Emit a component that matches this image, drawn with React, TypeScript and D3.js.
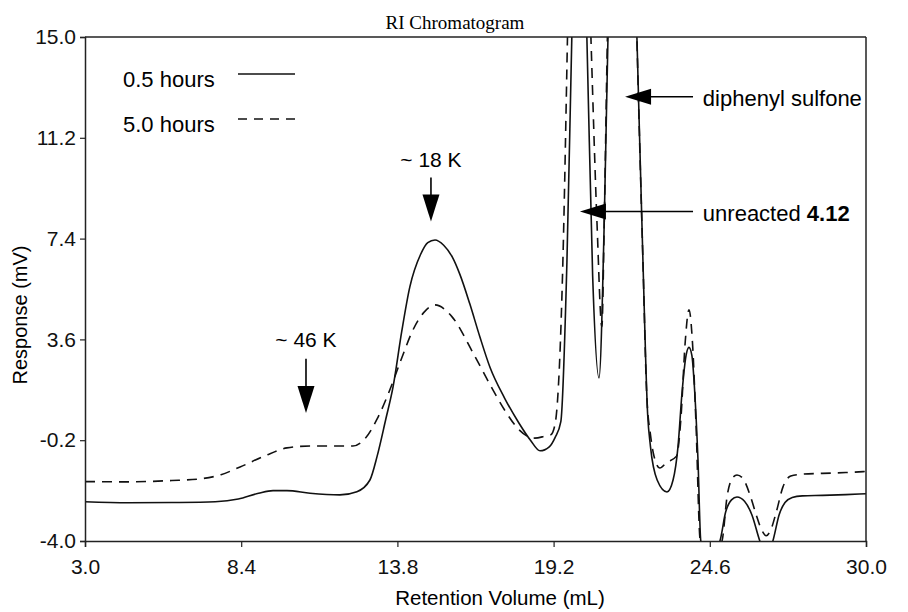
import React, { useRef, useEffect } from 'react';
import * as d3 from 'd3';

// retention volume (mL) / response (mV)
const solidVol = [3.0, 4.5, 6.0, 7.5, 8.3, 9.0, 9.5, 9.98, 10.78, 11.81, 12.4, 12.85, 13.1, 13.4, 13.65, 13.95, 14.23, 14.6, 14.85, 15.1, 15.4, 15.7, 15.96, 16.3, 16.65, 17.0, 17.5, 18.0, 18.4, 18.73, 19.05, 19.25, 19.45, 19.66, 19.83, 20.0, 20.15, 20.35, 20.55, 20.77, 20.95, 21.08, 21.3, 21.6, 21.9, 22.08, 22.29, 22.45, 22.55, 22.78, 23.12, 23.33, 23.5, 23.64, 23.78, 23.88, 23.98, 24.08, 24.19, 24.29, 24.6, 24.95, 25.15, 25.35, 25.54, 25.8, 26.05, 26.33, 26.55, 26.78, 27.0, 27.2, 27.45, 27.8, 28.5, 29.3, 30.0];
const solidResp = [-2.52, -2.56, -2.55, -2.52, -2.42, -2.2, -2.1, -2.1, -2.2, -2.26, -2.14, -1.7, -0.8, 0.6, 1.81, 3.9, 5.58, 6.8, 7.25, 7.35, 7.15, 6.7, 6.05, 4.95, 3.7, 2.55, 1.4, 0.45, -0.2, -0.6, -0.45, -0.1, 0.5, 6.5, 15, 22, 22, 15, 6, 2.15, 8, 15, 22, 24, 22, 15, 6.5, 0.8, -0.45, -1.7, -2.15, -1.7, -0.45, 1.6, 3.0, 3.3, 3.0, 1.6, -0.9, -4.0, -4.6, -4.0, -2.9, -2.45, -2.34, -2.5, -3.0, -4.0, -4.6, -4.0, -3.0, -2.55, -2.36, -2.3, -2.28, -2.25, -2.22];

const dashVol = [3.0, 4.5, 6.0, 6.97, 7.7, 8.36, 9.2, 9.98, 10.78, 11.5, 12.26, 12.64, 13.1, 13.54, 13.95, 14.34, 14.7, 15.1, 15.69, 16.41, 17.0, 17.5, 18.0, 18.3, 18.55, 18.9, 19.1, 19.25, 19.52, 19.68, 19.85, 20.1, 20.3, 20.49, 20.7, 20.87, 20.95, 21.06, 21.3, 21.6, 21.9, 22.08, 22.29, 22.42, 22.55, 22.65, 22.87, 23.1, 23.45, 23.6, 23.75, 23.88, 24.0, 24.12, 24.27, 24.6, 25.02, 25.2, 25.4, 25.54, 25.75, 26.0, 26.2, 26.4, 26.55, 26.7, 26.9, 27.13, 27.4, 27.8, 28.5, 29.3, 30.0];
const dashResp = [-1.76, -1.77, -1.72, -1.66, -1.5, -1.21, -0.8, -0.49, -0.42, -0.42, -0.42, -0.19, 0.6, 1.7, 2.9, 3.96, 4.6, 4.9, 4.45, 3.1, 1.9, 0.95, 0.2, -0.05, -0.12, -0.05, 0.0, 0.4, 6.5, 15, 25, 25, 22, 15, 8, 4.08, 8, 15, 24, 26, 24, 15, 6.5, 1.5, 0.0, -0.7, -1.25, -1.05, -0.8, 0.6, 3.5, 4.72, 3.5, 0.5, -4.0, -4.6, -4.0, -2.3, -1.6, -1.51, -1.65, -2.3, -3.0, -3.6, -3.8, -3.6, -2.9, -1.96, -1.55, -1.48, -1.45, -1.42, -1.38];

const xTicks = [3.0, 8.4, 13.8, 19.2, 24.6, 30.0];
const yTicks = [-4.0, -0.2, 3.6, 7.4, 11.2, 15.0];

const seriesNames = ['0.5 hours', '5.0 hours'];

// annotations: [label, x, textY, arrowFromY, arrowToY]
const vertNotes: [string, number, number, number, number][] = [
  ['~ 46 K', 10.64, 3.58, 2.87, 0.83],
  ['~ 18 K', 14.96, 10.38, 9.7, 8.04],
];
// [label, bold part, y, tipX, tailX, textX]
const horizNotes: [string, string, number, number, number, number][] = [
  ['diphenyl sulfone', '', 12.75, 21.67, 24.02, 24.36],
  ['unreacted ', '4.12', 8.42, 20.11, 24.02, 24.36],
];

const W = 908, H = 612;
const margin = { top: 37, right: 42, bottom: 71, left: 85 };
const SANS = '"Liberation Sans", Arial, sans-serif';
const fmt = (d: number) => d.toFixed(1);

const Chart: React.FC = () => {
  const svgRef = useRef<SVGSVGElement>(null);

  useEffect(() => {
    if (!svgRef.current) return;
    const svg = d3.select(svgRef.current);
    svg.selectAll('*').remove();

    const iw = W - margin.left - margin.right;
    const ih = H - margin.top - margin.bottom;

    const x = d3.scaleLinear().domain([3, 30]).range([0, iw]);
    const y = d3.scaleLinear().domain([-4, 15]).range([ih, 0]);

    svg.append('rect').attr('width', W).attr('height', H).attr('fill', '#fff');

    svg.append('defs').append('clipPath').attr('id', 'plot-clip')
      .append('rect').attr('width', iw).attr('height', ih);

    const g = svg.append('g').attr('transform', `translate(${margin.left},${margin.top})`);

    // title
    svg.append('text')
      .attr('x', 455).attr('y', 29)
      .attr('text-anchor', 'middle')
      .attr('font-family', '"Liberation Serif", "Times New Roman", serif')
      .attr('font-size', 19)
      .text('RI Chromatogram');

    // curves
    const line = d3.line<[number, number]>()
      .x(d => x(d[0]))
      .y(d => y(d[1]))
      .curve(d3.curveMonotoneX);

    const solidPts = solidVol.map((v, i) => [v, solidResp[i]] as [number, number]);
    const dashPts = dashVol.map((v, i) => [v, dashResp[i]] as [number, number]);

    const curves = g.append('g').attr('clip-path', 'url(#plot-clip)');
    curves.append('path').attr('d', line(dashPts))
      .attr('fill', 'none').attr('stroke', '#111').attr('stroke-width', 1.6)
      .attr('stroke-dasharray', '10,7');
    curves.append('path').attr('d', line(solidPts))
      .attr('fill', 'none').attr('stroke', '#111').attr('stroke-width', 1.6);

    // frame: top and right
    g.append('line').attr('x1', 0).attr('x2', iw).attr('y1', 0).attr('y2', 0)
      .attr('stroke', '#222').attr('stroke-width', 1.5);
    g.append('line').attr('x1', iw).attr('x2', iw).attr('y1', 0).attr('y2', ih)
      .attr('stroke', '#222').attr('stroke-width', 1.5);

    // axes
    const xAxis = g.append('g').attr('transform', `translate(0,${ih})`)
      .call(d3.axisBottom(x).tickValues(xTicks).tickFormat(fmt as any).tickSizeOuter(0).tickSize(6).tickPadding(12));
    const yAxis = g.append('g')
      .call(d3.axisLeft(y).tickValues(yTicks).tickFormat(fmt as any).tickSizeOuter(0).tickSize(5).tickPadding(4));

    [xAxis, yAxis].forEach(a => {
      a.select('.domain').attr('stroke', '#222').attr('stroke-width', 1.5);
      a.selectAll('.tick line').attr('stroke', '#222').attr('stroke-width', 1.2);
      a.selectAll('.tick text').attr('font-family', SANS).attr('font-size', 21).attr('fill', '#111');
    });

    // axis titles
    svg.append('text')
      .attr('x', 500).attr('y', 605)
      .attr('text-anchor', 'middle')
      .attr('font-family', SANS).attr('font-size', 20.5)
      .text('Retention Volume (mL)');
    svg.append('text')
      .attr('transform', 'translate(27,315) rotate(-90)')
      .attr('text-anchor', 'middle')
      .attr('font-family', SANS).attr('font-size', 20)
      .text('Response (mV)');

    // legend
    const legend = g.append('g');
    seriesNames.forEach((name, i) => {
      const ly = 37 + i * 45;
      legend.append('text')
        .attr('x', 38).attr('y', ly + 5).attr('dy', '0.35em')
        .attr('font-family', SANS).attr('font-size', 22)
        .text(name);
      legend.append('line')
        .attr('x1', 153).attr('x2', 210).attr('y1', ly).attr('y2', ly)
        .attr('stroke', '#111').attr('stroke-width', 1.6)
        .attr('stroke-dasharray', i === 0 ? null : '9,7');
    });

    // vertical arrows
    vertNotes.forEach(([label, vx, ty, y0, y1]) => {
      const px = x(vx);
      g.append('text')
        .attr('x', px).attr('y', y(ty)).attr('dy', '0.35em')
        .attr('text-anchor', 'middle')
        .attr('font-family', SANS).attr('font-size', 21)
        .text(label);
      const tip = y(y1);
      g.append('line')
        .attr('x1', px).attr('x2', px).attr('y1', y(y0)).attr('y2', tip - 20)
        .attr('stroke', '#000').attr('stroke-width', 1.6);
      g.append('path')
        .attr('d', `M${px - 8.5},${tip - 27}L${px + 8.5},${tip - 27}L${px},${tip}Z`)
        .attr('fill', '#000');
    });

    // horizontal arrows
    horizNotes.forEach(([label, bold, hy, tipX, tailX, textX]) => {
      const py = y(hy);
      const tip = x(tipX);
      g.append('line')
        .attr('x1', x(tailX)).attr('x2', tip + 20).attr('y1', py).attr('y2', py)
        .attr('stroke', '#000').attr('stroke-width', 1.6);
      g.append('path')
        .attr('d', `M${tip + 26},${py - 8}L${tip + 26},${py + 8}L${tip},${py}Z`)
        .attr('fill', '#000');
      const t = g.append('text')
        .attr('x', x(textX)).attr('y', py + 2).attr('dy', '0.35em')
        .attr('font-family', SANS).attr('font-size', 22);
      t.append('tspan').text(label);
      if (bold) t.append('tspan').attr('font-weight', 'bold').text(bold);
    });
  }, []);

  return <svg ref={svgRef} width={W} height={H} style={{ position: 'absolute', left: 0, top: 0 }} />;
};

export default function App() {
  return <Chart />;
}
